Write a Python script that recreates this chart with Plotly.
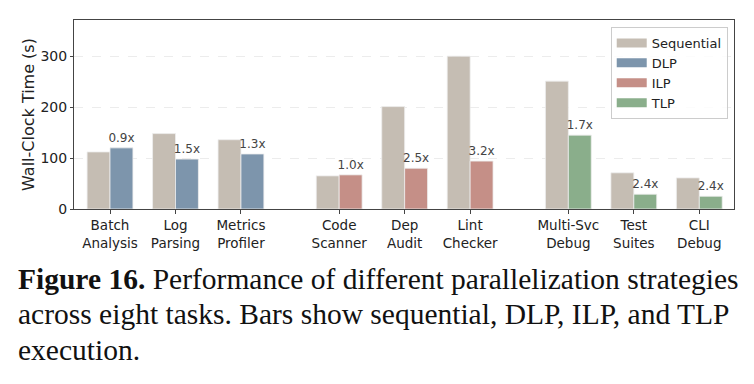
import plotly.graph_objects as go

categories = ["Batch<br>Analysis", "Log<br>Parsing", "Metrics<br>Profiler",
              "Code<br>Scanner", "Dep<br>Audit", "Lint<br>Checker",
              "Multi-Svc<br>Debug", "Test<br>Suites", "CLI<br>Debug"]
positions = [0, 1, 2, 3.5, 4.5, 5.5, 7, 8, 9]
sequential = [112, 148, 136, 65, 201, 300, 251, 71, 61]
parallel = [120, 98, 108, 67, 80, 94, 145, 29, 25]
strategy = ["DLP", "DLP", "DLP", "ILP", "ILP", "ILP", "TLP", "TLP", "TLP"]
speedup_labels = ["0.9x", "1.5x", "1.3x", "1.0x", "2.5x", "3.2x", "1.7x", "2.4x", "2.4x"]

colors = {"Sequential": "#c5bdb3", "DLP": "#7d95ac", "ILP": "#c58f87", "TLP": "#8aae8b"}
bw = 0.35

fig = go.Figure()
fig.add_trace(go.Bar(
    x=[p - bw / 2 for p in positions], y=sequential, width=bw,
    marker=dict(color=colors["Sequential"], line=dict(color="#eeeeee", width=0.8)),
    showlegend=False, name="Sequential"))
for s in ["DLP", "ILP", "TLP"]:
    idx = [i for i, v in enumerate(strategy) if v == s]
    fig.add_trace(go.Bar(
        x=[positions[i] + bw / 2 for i in idx], y=[parallel[i] for i in idx], width=bw,
        marker=dict(color=colors[s], line=dict(color="#eeeeee", width=0.8)),
        text=[speedup_labels[i] for i in idx], textposition="outside",
        constraintext="none", textangle=0,
        textfont=dict(size=12, color="#444444", family="DejaVu Sans"),
        cliponaxis=False, showlegend=False, name=s))

for s in ["Sequential", "DLP", "ILP", "TLP"]:
    fig.add_trace(go.Scatter(x=[None], y=[None], mode="lines", name=s,
                             line=dict(color=colors[s], width=9)))

fig.update_layout(
    width=754, height=384,
    margin=dict(l=74, r=20, t=20, b=175),
    plot_bgcolor="white", paper_bgcolor="white",
    font=dict(family="DejaVu Sans", size=13, color="#222222"),
    barmode="overlay",
    legend=dict(x=0.9905, y=0.963, xanchor="right", yanchor="top",
                bordercolor="#cccccc", borderwidth=1, bgcolor="rgba(255,255,255,0.85)",
                font=dict(size=13), tracegroupgap=0, itemwidth=30),
    showlegend=True,
)
fig.update_xaxes(
    range=[-0.55, 9.53], tickmode="array", tickvals=positions, ticktext=categories,
    showline=True, mirror=True, linecolor="#444444", linewidth=1,
    ticks="outside", ticklen=4, tickcolor="#444444", showgrid=False,
    tickfont=dict(size=13.5), zeroline=False)
fig.update_yaxes(
    range=[0, 371], tickvals=[0, 100, 200, 300],
    showline=True, mirror=True, linecolor="#444444", linewidth=1,
    ticks="outside", ticklen=3, tickcolor="#444444",
    showgrid=True, gridcolor="#ececec", griddash="dash", gridwidth=0.6,
    zeroline=False, tickfont=dict(size=14),
    title=dict(text="Wall-Clock Time (s)", font=dict(size=16), standoff=1))

caption_lines = [
    "<b>Figure 16.</b> Performance of different parallelization strategies",
    "across eight tasks. Bars show sequential, DLP, ILP, and TLP",
    "execution.",
]
for i, line in enumerate(caption_lines):
    fig.add_annotation(text=line, xref="paper", yref="paper",
                       x=(16 - 74) / 660, y=-(296.5 - 209 + 35.5 * i) / 189,
                       xanchor="left", yanchor="bottom", showarrow=False,
                       font=dict(family="Liberation Serif", size=29.5, color="#111111"))

fig.write_html("out.html")
